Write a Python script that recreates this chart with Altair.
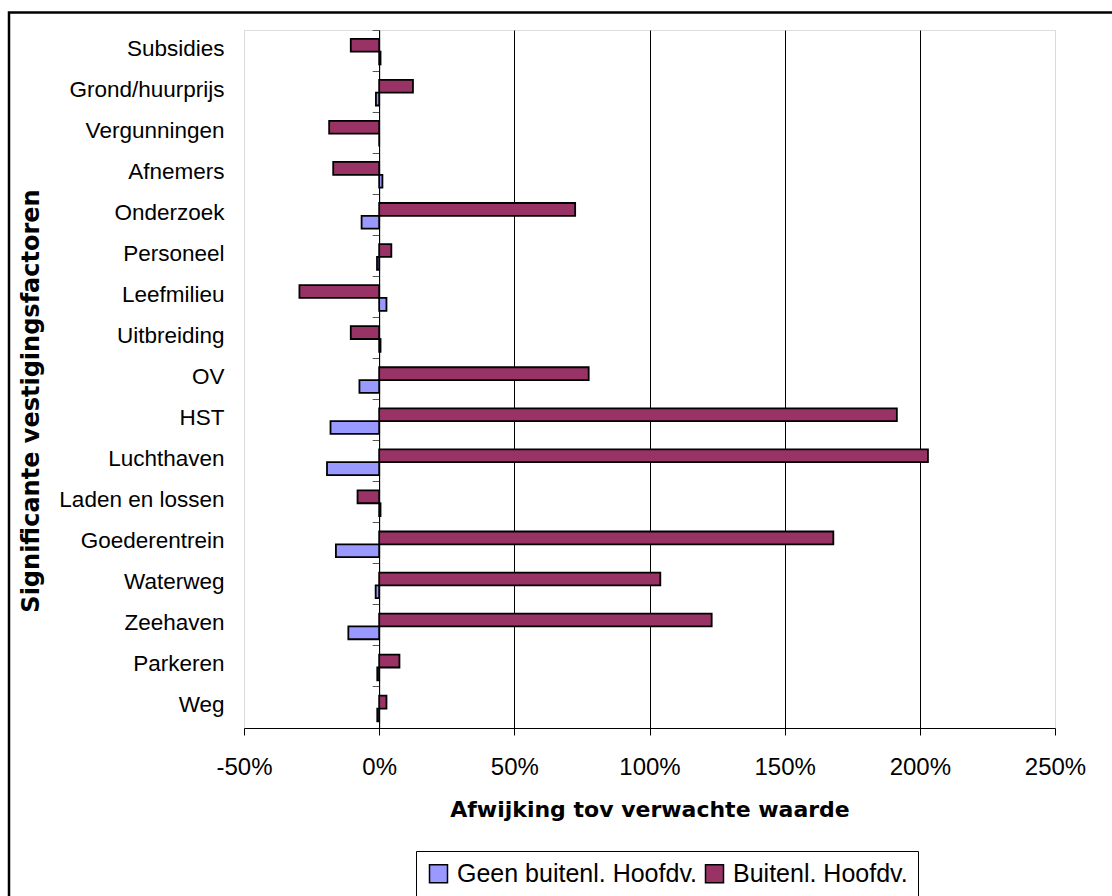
import altair as alt
import pandas as pd

# Categories, top to bottom
factoren = [
    "Subsidies", "Grond/huurprijs", "Vergunningen", "Afnemers", "Onderzoek",
    "Personeel", "Leefmilieu", "Uitbreiding", "OV", "HST", "Luchthaven",
    "Laden en lossen", "Goederentrein", "Waterweg", "Zeehaven", "Parkeren", "Weg",
]

# Deviation from expected value, in percent
buitenl_hoofdv = [-10.5, 12.5, -18.5, -17, 72.5, 4.5, -29.5, -10.5, 77.5,
                  191.5, 203, -8, 168, 104, 123, 7.5, 2.7]
geen_buitenl_hoofdv = [0.5, -1.2, 0, 1.2, -6.5, -0.8, 2.7, 0.5, -7.3,
                       -18, -19.3, 0.5, -16, -1.3, -11.4, -0.7, -0.7]

series = ["Geen buitenl. Hoofdv.", "Buitenl. Hoofdv."]
colors = ["#9999FF", "#993366"]
x_ticks = [-50, 0, 50, 100, 150, 200, 250]

rows = []
for f, g, b in zip(factoren, geen_buitenl_hoofdv, buitenl_hoofdv):
    rows.append({"factor": f, "serie": series[0], "waarde": g})
    rows.append({"factor": f, "serie": series[1], "waarde": b})
df = pd.DataFrame(rows)

W, H = 811, 698
X_MIN, X_MAX = x_ticks[0], x_ticks[-1]
# the category axis crosses the value axis at 0%
zero_offset = -W * (0 - X_MIN) / (X_MAX - X_MIN)

LABEL_FONT = "Liberation Sans"
TITLE_FONT = "DejaVu Sans"

bars = alt.Chart(df).mark_bar(stroke="black", strokeWidth=1.8).encode(
    x=alt.X(
        "waarde:Q",
        stack=None,
        scale=alt.Scale(domain=[X_MIN, X_MAX], nice=False),
        axis=alt.Axis(
            values=x_ticks,
            labelExpr="datum.value + '%'",
            labelFont=LABEL_FONT, labelFontSize=24, labelColor="black",
            labelPadding=20, labelFlush=False, labelOverlap=False,
            tickSize=7, tickColor="black", domainColor="black", domainWidth=1,
            grid=True, gridWidth=1, gridOpacity=1,
            gridColor=alt.condition(
                "datum.value == -50 || datum.value == 250",
                alt.value("#d9d9d9"), alt.value("#000000")),
            title="Afwijking tov verwachte waarde",
            titleFont=TITLE_FONT, titleFontWeight="bold", titleFontSize=22,
            titleColor="black", titleBaseline="alphabetic", titleY=88,
        ),
    ),
    y=alt.Y(
        "factor:N",
        sort=factoren,
        scale=alt.Scale(paddingInner=0, paddingOuter=0),
        axis=alt.Axis(
            orient="left", offset=zero_offset, bandPosition=0,
            domainColor="black", domainWidth=1,
            tickSize=7, tickColor="#555555",
            labelPadding=-zero_offset + 20 - 7,
            labelFont=LABEL_FONT, labelFontSize=22.5, labelColor="black",
            labelAlign="right", labelBaseline="middle", labelOffset=-2,
            labelLimit=300,
            title="Significante vestigingsfactoren",
            titleFont=TITLE_FONT, titleFontWeight="bold", titleFontSize=24,
            titleColor="black", titleAngle=270, titleBaseline="alphabetic",
            titleX=zero_offset - 205.7, titleY=370.5,
        ),
    ),
    yOffset=alt.YOffset(
        "serie:N",
        sort=[series[1], series[0]],
        scale=alt.Scale(paddingInner=0, paddingOuter=0.6, align=0.57),
    ),
    color=alt.Color(
        "serie:N",
        scale=alt.Scale(domain=series, range=colors),
        legend=alt.Legend(
            title=None, orient="none", legendX=172, legendY=821,
            direction="horizontal", padding=10,
            strokeColor="black", fillColor="white",
            symbolType="square", symbolSize=324,
            symbolStrokeColor="black", symbolStrokeWidth=1.5,
            labelFont=LABEL_FONT, labelFontSize=25, labelColor="black",
            labelOffset=6, labelLimit=400, columnPadding=5,
        ),
    ),
)

# outer chart frame
frame = alt.Chart(pd.DataFrame({"k": [0]})).mark_rect(
    fillOpacity=0, stroke="black", strokeWidth=2.5
).encode(
    x=alt.value(9 - 244), x2=alt.value(1300),
    y=alt.value(12.5 - 30), y2=alt.value(1000),
)

chart = alt.layer(frame, bars).properties(
    width=W, height=H,
    autosize=alt.AutoSizeParams(type="none"),
    padding={"left": 244, "top": 30, "right": 1112 - 244 - W, "bottom": 896 - 30 - H},
).configure_view(stroke=None).configure(background="white")

chart.save("out.html", embed_options={"renderer": "svg", "actions": False})
